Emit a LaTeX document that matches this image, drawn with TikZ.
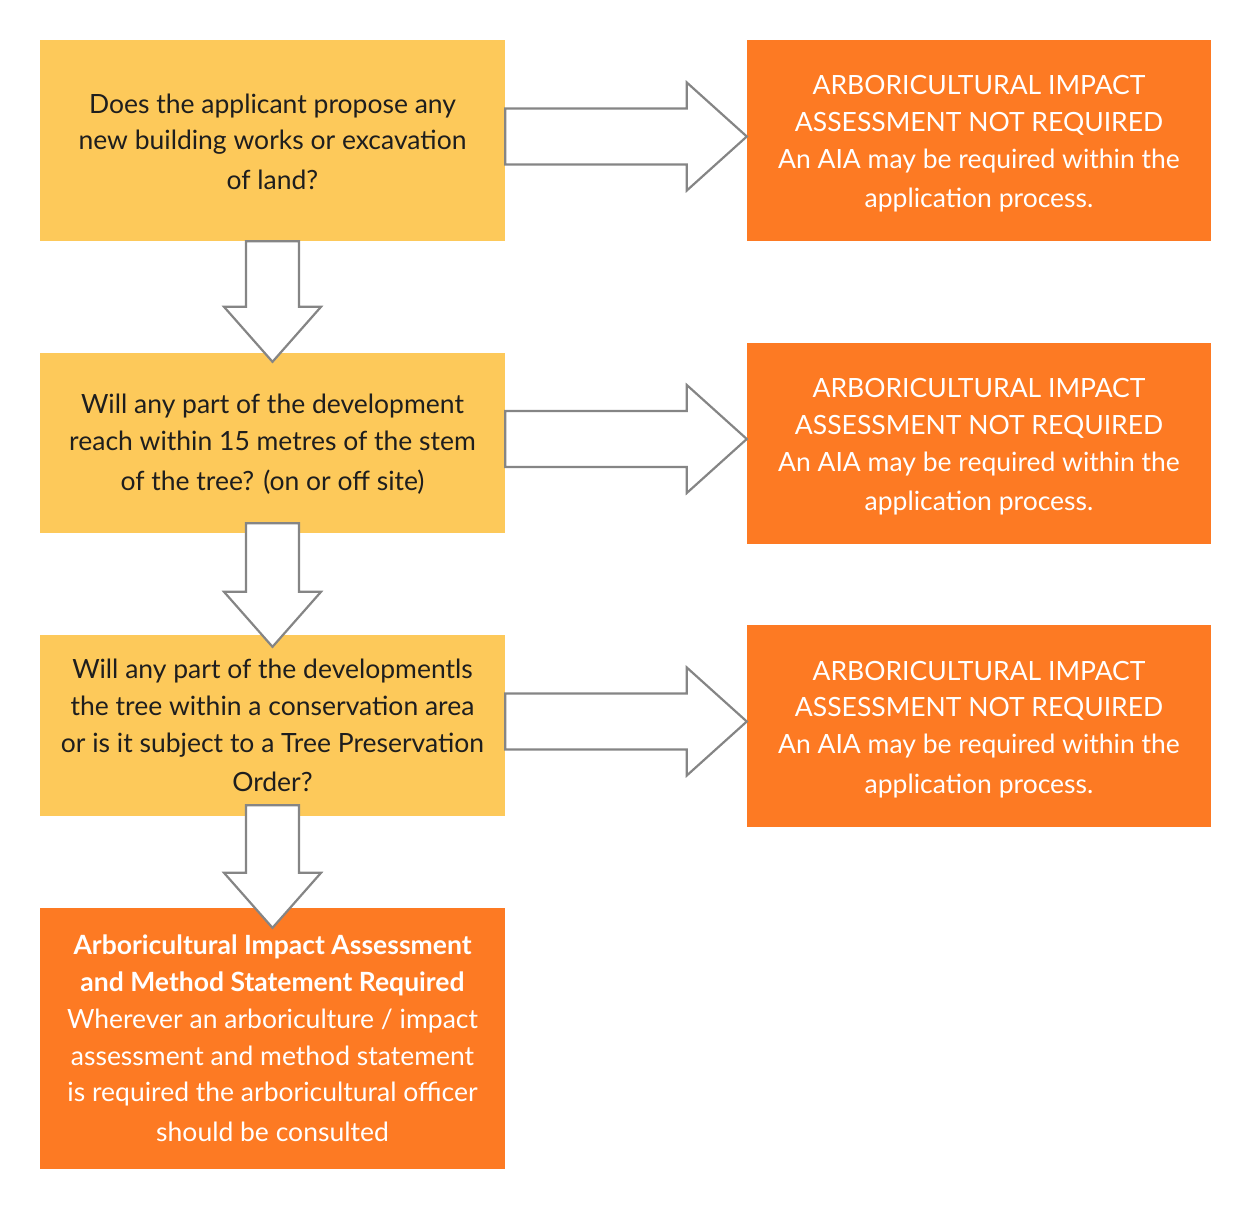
\documentclass[tikz,border=0pt]{standalone}
\usepackage{fontspec}
\setmainfont{Lato}
\usetikzlibrary{calc}
\definecolor{qyellow}{HTML}{FDC95A}
\definecolor{aorange}{HTML}{FD7A23}
\definecolor{arrowgrey}{HTML}{858585}
\definecolor{darktext}{HTML}{1E1E1E}
\tikzset{
  qbox/.style={fill=qyellow, draw=none, minimum width=465pt, inner sep=0pt, align=center, text=darktext, font=\fontsize{26.5}{36.8}\selectfont},
  abox/.style={fill=aorange, draw=none, minimum width=464pt, inner sep=0pt, align=center, text=white, font=\fontsize{26.5}{36.8}\selectfont},
  blockarrow/.style={fill=white, draw=arrowgrey, line width=2.2pt, line join=miter},
}
\newcommand{\rightblock}[2]{%
  \draw[blockarrow] let \p1=(#1.east), \p2=(#2.west) in
    (\x1,\y1+32pt) -- (\x2-60pt,\y1+32pt) -- (\x2-60pt,\y1+58pt) -- (\x2,\y1+4pt)
    -- (\x2-60pt,\y1-50pt) -- (\x2-60pt,\y1-24pt) -- (\x1,\y1-24pt) -- cycle;}
\newcommand{\downblock}[4]{%
  \draw[blockarrow] let \p1=(#1.south), \p2=(#2.north) in
    (\x1-26.5pt,\y1+#3) -- (\x1+26.5pt,\y1+#3) -- (\x1+26.5pt,\y2-#4+55pt) -- (\x1+48.5pt,\y2-#4+55pt)
    -- (\x1,\y2-#4) -- (\x1-48.5pt,\y2-#4+55pt) -- (\x1-26.5pt,\y2-#4+55pt) -- cycle;}
\newcommand{\topstrut}{\rule{0pt}{26pt}}
\begin{document}
\begin{tikzpicture}[x=1pt,y=-1pt]
\useasboundingbox (0,0) rectangle (1252,1211);
% question boxes
\node[qbox, minimum height=201pt] (q1) at (272.5,140.5)
  {\rule{0pt}{22pt}Does the applicant propose any\\ new building works or excavation\\[3pt] of land?};
\node[qbox, minimum height=180pt] (q2) at (272.5,443)
  {\rule{0pt}{22pt}Will any part of the development\\ reach within 15 metres of the stem\\[3pt] of the tree? (on or off site)};
\node[qbox, minimum height=181pt] (q3) at (272.5,725.5)
  {Will any part of the developmentls\\ the tree within a conservation area\\ or is it subject to a Tree Preservation\\[3pt] Order?};
% final box
\node[abox, minimum width=465pt, minimum height=261pt] (f) at (272.5,1038.5)
  {\textbf{Arboricultural Impact Assessment}\\ \textbf{and Method Statement Required}\\ Wherever an arboriculture / impact\\ assessment and method statement\\ is required the arboricultural officer\\[3pt] should be consulted};
% answer boxes
\node[abox, minimum height=201pt] (n1) at (979,140.5)
  {\topstrut ARBORICULTURAL IMPACT\\ ASSESSMENT NOT REQUIRED\\ An AIA may be required within the\\[3pt] application process.};
\node[abox, minimum height=201pt] (n2) at (979,443.5)
  {\topstrut ARBORICULTURAL IMPACT\\ ASSESSMENT NOT REQUIRED\\ An AIA may be required within the\\[3pt] application process.};
\node[abox, minimum height=202pt] (n3) at (979,726)
  {\topstrut ARBORICULTURAL IMPACT\\ ASSESSMENT NOT REQUIRED\\ An AIA may be required within the\\[3pt] application process.};
% arrows
\rightblock{q1}{n1}
\rightblock{q2}{n2}
\rightblock{q3}{n3}
\downblock{q1}{q2}{0pt}{9pt}
\downblock{q2}{q3}{10pt}{12pt}
\downblock{q3}{f}{11pt}{20pt}
\end{tikzpicture}
\end{document}
